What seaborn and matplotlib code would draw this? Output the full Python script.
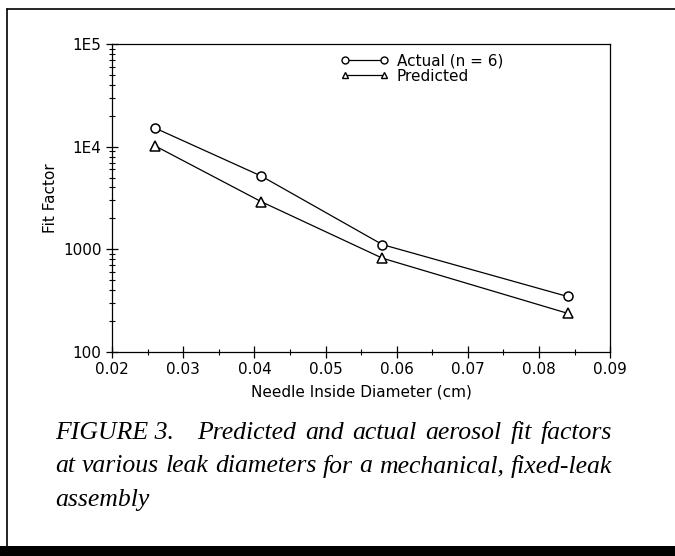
import numpy as np
import pandas as pd
import matplotlib
matplotlib.use("Agg")
import matplotlib.pyplot as plt
from matplotlib.lines import Line2D
from matplotlib.ticker import LogLocator, MultipleLocator, NullFormatter
import seaborn as sns


# ── Data ─────────────────────────────────────────────────────────────────────

diameters = [0.026, 0.041, 0.058, 0.084]           # needle inside diameter, cm
actual    = [15200, 5150, 1110, 347]               # measured fit factor (n = 6)
predicted = [10200, 2900, 818, 238]                # predicted fit factor

series_names = ["Actual (n = 6)", "Predicted"]
x_ticks  = [0.02, 0.03, 0.04, 0.05, 0.06, 0.07, 0.08, 0.09]
y_ticks  = [100, 1000, 10000, 100000]
y_labels = ["100", "1000", "1E4", "1E5"]

# caption, as word groups; the first two lines are set justified
caption_lines = [
    ["FIGURE 3.", "Predicted", "and", "actual", "aerosol", "fit", "factors"],
    ["at", "various", "leak", "diameters", "for", "a", "mechanical,", "fixed-leak"],
    ["assembly"],
]


# ── Style ─────────────────────────────────────────────────────────────────────

sns.set_theme(style="white")
plt.rcParams["font.family"] = ["DejaVu Sans"]
plt.rcParams["axes.edgecolor"] = "black"
plt.rcParams["axes.linewidth"] = 0.9
plt.rcParams["text.color"] = "black"
plt.rcParams["axes.labelcolor"] = "black"
plt.rcParams["xtick.color"] = "black"
plt.rcParams["ytick.color"] = "black"


df = pd.DataFrame({
    "diameter": diameters * 2,
    "fit": actual + predicted,
    "series": [series_names[0]] * len(actual) + [series_names[1]] * len(predicted),
})

fig = plt.figure(figsize=(6.75, 5.56), dpi=100)
ax = fig.add_axes([0.166, 0.367, 0.738, 0.554])

sns.lineplot(data=df, x="diameter", y="fit", style="series",
             markers={series_names[0]: "o", series_names[1]: "^"},
             dashes=False, color="black", linewidth=0.9,
             markersize=6.5, markerfacecolor="white", markeredgecolor="black",
             markeredgewidth=1.1, legend=False, ax=ax)

ax.set_yscale("log")
ax.set_xlim(0.02, 0.09)
ax.set_ylim(100, 100000)

ax.set_xticks(x_ticks)
ax.set_xticklabels([f"{t:.2f}" for t in x_ticks])
ax.xaxis.set_minor_locator(MultipleLocator(0.005))
ax.set_yticks(y_ticks)
ax.set_yticklabels(y_labels)
ax.yaxis.set_minor_locator(LogLocator(base=10, subs=np.arange(2, 10)))
ax.yaxis.set_minor_formatter(NullFormatter())

ax.tick_params(axis="both", which="major", direction="inout", length=9,
               width=0.9, color="black", labelsize=11, pad=3,
               bottom=True, left=True, top=False, right=False)
ax.tick_params(axis="both", which="minor", direction="inout", length=5,
               width=0.8, color="black",
               bottom=True, left=True, top=False, right=False)

ax.set_xlabel("Needle Inside Diameter (cm)", fontsize=11, labelpad=5)
ax.set_ylabel("Fit Factor", fontsize=11, labelpad=4)
for s in ax.spines.values():
    s.set_color("black")

# legend: marker—line—marker handles
handles = [
    Line2D([], [], color="black", lw=0.9, marker="o", ms=5,
           mfc="white", mec="black", mew=1.0),
    Line2D([], [], color="black", lw=0.9, marker="^", ms=5,
           mfc="white", mec="black", mew=1.0),
]
ax.legend(handles, series_names, loc="upper left",
          bbox_to_anchor=(0.43, 1.015), frameon=False, numpoints=2,
          handlelength=3.2, handletextpad=0.5, labelspacing=0.05,
          fontsize=11)


# ── Caption (justified) ───────────────────────────────────────────────────────

renderer = fig.canvas.get_renderer()
cap_left, cap_right = 55, 612          # pixels
cap_kw = dict(fontsize=18.5, fontstyle="italic", family=["Liberation Serif"],
              va="center", ha="left")

for i, words in enumerate(caption_lines):
    y = 1 - (433 + i * 33.5) / 556
    texts = [fig.text(0, y, w, **cap_kw) for w in words]
    widths = [t.get_window_extent(renderer).width for t in texts]
    if i < len(caption_lines) - 1:
        # first gap after "FIGURE 3." is wider in the original
        weights = [2.6 if (i == 0 and k == 0) else 1.0 for k in range(len(words) - 1)]
        unit = (cap_right - cap_left - sum(widths)) / sum(weights)
        gaps = [unit * w for w in weights]
    else:
        gaps = [6] * (len(words) - 1)
    x = cap_left
    for k, t in enumerate(texts):
        t.set_x(x / 675)
        x += widths[k] + (gaps[k] if k < len(gaps) else 0)

# page frame from the scan
fig.add_artist(Line2D([7 / 675, 7 / 675], [1 - 9 / 556, 8 / 556],
                      transform=fig.transFigure, color="black", lw=1.2))
fig.add_artist(Line2D([7 / 675, 1], [1 - 9 / 556, 1 - 9 / 556],
                      transform=fig.transFigure, color="black", lw=1.2))
fig.add_artist(plt.Rectangle((0, 0), 1, 10 / 556, transform=fig.transFigure,
                             color="black", lw=0))

fig.savefig("out.png", dpi=100)
plt.close(fig)
